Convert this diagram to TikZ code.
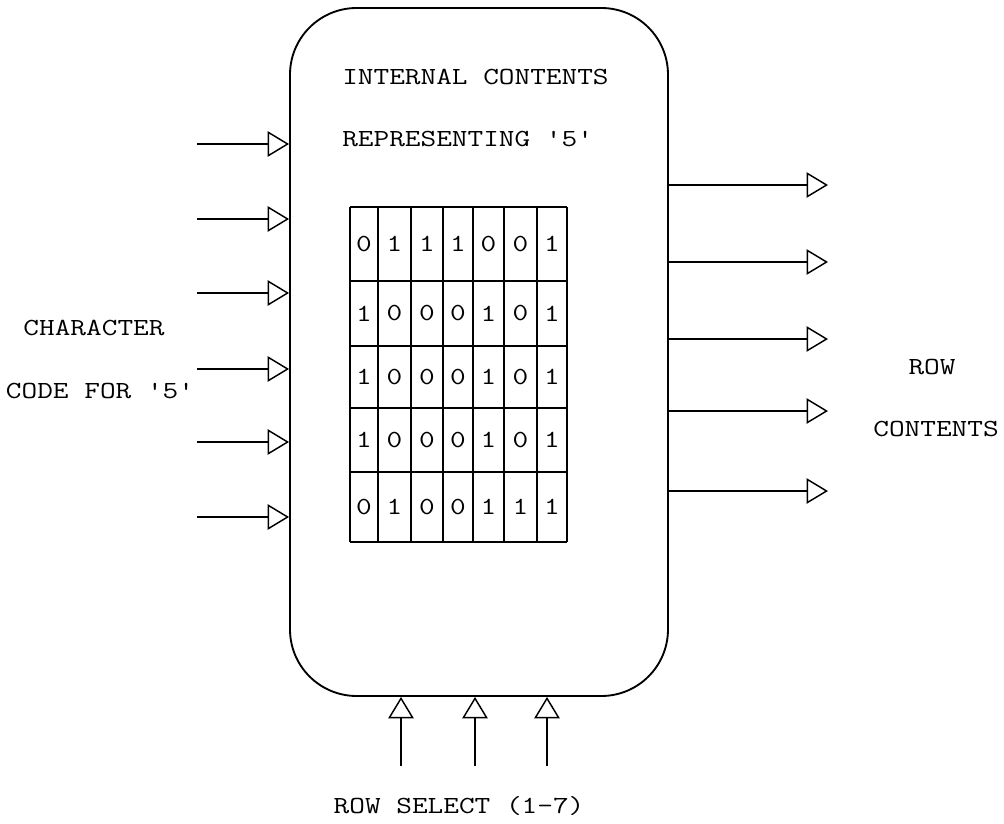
\documentclass[tikz,border=0pt]{standalone}
\usepackage{fontspec}
\usepackage{graphicx}
\usetikzlibrary{arrows.meta}
\newcommand{\typefont}{\ttfamily\fontsize{18.4}{22}\selectfont}
\newcommand{\tw}[1]{\scalebox{1.24}[1]{#1}}
\begin{document}
\begin{tikzpicture}[x=0.75pt,y=-0.75pt,
  lbl/.style={font=\typefont, inner sep=0pt},
  dig/.style={font=\typefont, inner sep=0pt},
  arr/.style={line width=1.1pt, -{Triangle[open, length=16pt, width=19pt, line width=1.1pt]}},
  gridline/.style={line width=1.2pt},
  boxstyle/.style={draw, line width=1.4pt, rounded corners=50pt, minimum width=283.5pt, minimum height=516pt, inner sep=0pt}]
\useasboundingbox (0,0) rectangle (1004,824);
% main box
\node[boxstyle] (box) at (479,352) {};
% texts inside
\node[lbl, anchor=west] (t1) at (342,77) {\tw{INTERNAL CONTENTS}};
\node[lbl, anchor=west] (t2) at (342,139) {\tw{REPRESENTING '5'}};
% grid
\foreach \x in {350,378,411,443,473,504,537,567} \draw[gridline] (\x,207) -- (\x,542);
\foreach \y in {207,281,346,408,472,542} \draw[gridline] (350,\y) -- (567,\y);
\def\cx{{364,394.5,427,458,488.5,520.5,552}}
\def\cy{{244,313.5,377,440,507}}
\foreach \r/\row in {0/{0,1,1,1,0,0,1},1/{1,0,0,0,1,0,1},2/{1,0,0,0,1,0,1},3/{1,0,0,0,1,0,1},4/{0,1,0,0,1,1,1}}{
  \foreach \d [count=\c from 0] in \row {
    \pgfmathsetmacro{\px}{\cx[\c]}
    \pgfmathsetmacro{\py}{\cy[\r]}
    \node[dig] (d\r\c) at (\px,\py) {\tw{\d}};
  }
}
% left inputs
\foreach \y [count=\i] in {144,219,293,369,442,517} {
  \coordinate (in\i) at (197,\y);
  \draw[arr] (in\i) -- (in\i -| box.west);
}
% right outputs
\foreach \y [count=\i] in {185,262,339,411,491} {
  \coordinate (out\i) at (828,\y);
  \coordinate (src\i) at (box.east |- out\i);
  \draw[arr] (src\i) -- (out\i);
}
% bottom inputs
\foreach \x [count=\i] in {401,475,547} {
  \coordinate (sel\i) at (\x,766);
  \draw[arr] (sel\i) -- (sel\i |- box.south);
}
% outside labels
\node[lbl] (char) at (94,328) {\tw{CHARACTER}};
\node[lbl] (code) at (100,391) {\tw{CODE FOR '5'}};
\node[lbl] (row) at (932,367) {\tw{ROW}};
\node[lbl] (cont) at (936,429) {\tw{CONTENTS}};
\node[lbl] (rsel) at (459,806) {\tw{ROW SELECT (1-7)}};
\end{tikzpicture}
\end{document}
